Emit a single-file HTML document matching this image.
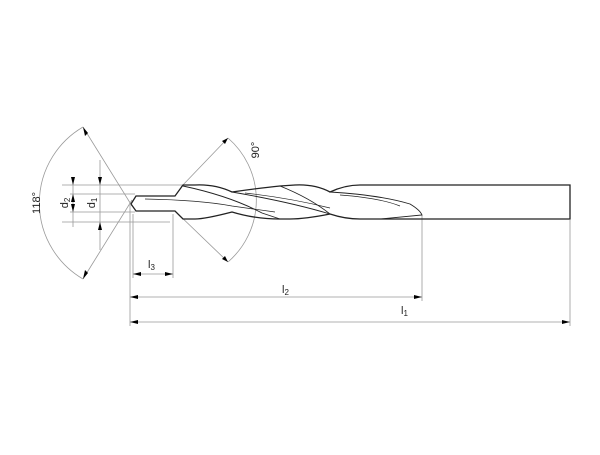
<!DOCTYPE html><html><head><style>body{margin:0;background:#fff}</style></head><body>
<svg width="600" height="450" viewBox="0 0 600 450" xmlns="http://www.w3.org/2000/svg" font-family="Liberation Sans, sans-serif">
<g stroke="#999" stroke-width="0.8" fill="none">
<line x1="62" y1="185" x2="183" y2="185"/><line x1="62" y1="222" x2="170" y2="222"/>
<line x1="70" y1="194" x2="135" y2="194"/><line x1="70" y1="212" x2="135" y2="212"/>
<line x1="73" y1="180" x2="73" y2="227"/><line x1="100" y1="160" x2="100" y2="250"/>
<line x1="83" y1="127" x2="132" y2="206"/><line x1="83" y1="279" x2="132" y2="200"/>
<path d="M83 127 A88 88 0 0 0 83 279"/>
<line x1="228" y1="138" x2="181" y2="187"/><line x1="228" y1="262" x2="175" y2="211"/>
<path d="M228 138 A82 82 0 0 1 228 262"/>
<line x1="130" y1="205" x2="130" y2="326"/><line x1="133" y1="214" x2="133" y2="278"/>
<line x1="173" y1="214" x2="173" y2="278"/><line x1="422" y1="215" x2="422" y2="301"/>
<line x1="570" y1="220" x2="570" y2="326"/>
<line x1="133" y1="274" x2="173" y2="274"/>
<line x1="130" y1="297" x2="422" y2="297"/><line x1="130" y1="322" x2="570" y2="322"/>
</g>
<g fill="#000">
<polygon points="73,185 71,177 75,177"/><polygon points="73,194 71,202 75,202"/>
<polygon points="73,212 71,204 75,204"/><polygon points="100,185 98,177 102,177"/>
<polygon points="100,222 98,230 102,230"/>
<polygon points="133,274 141,272 141,276"/><polygon points="173,274 165,272 165,276"/>
<polygon points="130,297 138,295 138,299"/><polygon points="422,297 414,295 414,299"/>
<polygon points="130,322 138,320 138,324"/><polygon points="570,322 562,320 562,324"/>
<polygon points="83,127 88,133 85,136"/><polygon points="83,279 88,273 85,270"/>
<polygon points="228,138 225,144 222,141"/><polygon points="228,262 225,256 222,259"/>
</g>
<g stroke="#222" stroke-width="1.3" fill="none">
<path d="M136 196 L175 196 L183 185 L195 185 Q215 184 232 192 Q260 188 280 186 L295 185 Q315 184 330 192 Q345 185 360 185 L570 185 L570 219 L360 219 Q345 219 330 214 Q305 219 290 219 L280 219 Q255 219 232 212 Q205 219 195 219 L183 219 L175 211 L136 211 L131 204 Z"/>
<path d="M183 186 Q230 196 262 213 L280 219" stroke-width="0.9"/>
<path d="M145 199 Q200 200 232 206 Q260 210 275 212" stroke-width="0.7"/>
<path d="M232 192 Q290 202 330 214" stroke-width="0.9"/>
<path d="M245 193 Q290 198 330 208" stroke-width="0.7"/>
<path d="M330 192 Q380 195 410 204 Q420 210 422 215 L380 219" stroke-width="0.9"/>
<path d="M340 195 Q380 198 400 206" stroke-width="0.7"/>
<path d="M280 186 Q310 198 330 214" stroke-width="0.9"/>
</g>
<g font-size="11" fill="#222">
<text x="0" y="0" transform="translate(40,203) rotate(-90)" text-anchor="middle">118°</text>
<text x="0" y="0" transform="translate(259,150) rotate(-90)" text-anchor="middle">90°</text>
<text x="0" y="0" transform="translate(68,203) rotate(-90)" text-anchor="middle">d<tspan font-size="8" dy="2">2</tspan></text>
<text x="0" y="0" transform="translate(95,203) rotate(-90)" text-anchor="middle">d<tspan font-size="8" dy="2">1</tspan></text>
<text x="148" y="268">l<tspan font-size="8" dy="2">3</tspan></text>
<text x="282" y="293">l<tspan font-size="8" dy="2">2</tspan></text>
<text x="401" y="314">l<tspan font-size="8" dy="2">1</tspan></text>
</g>
</svg>
</body></html>
